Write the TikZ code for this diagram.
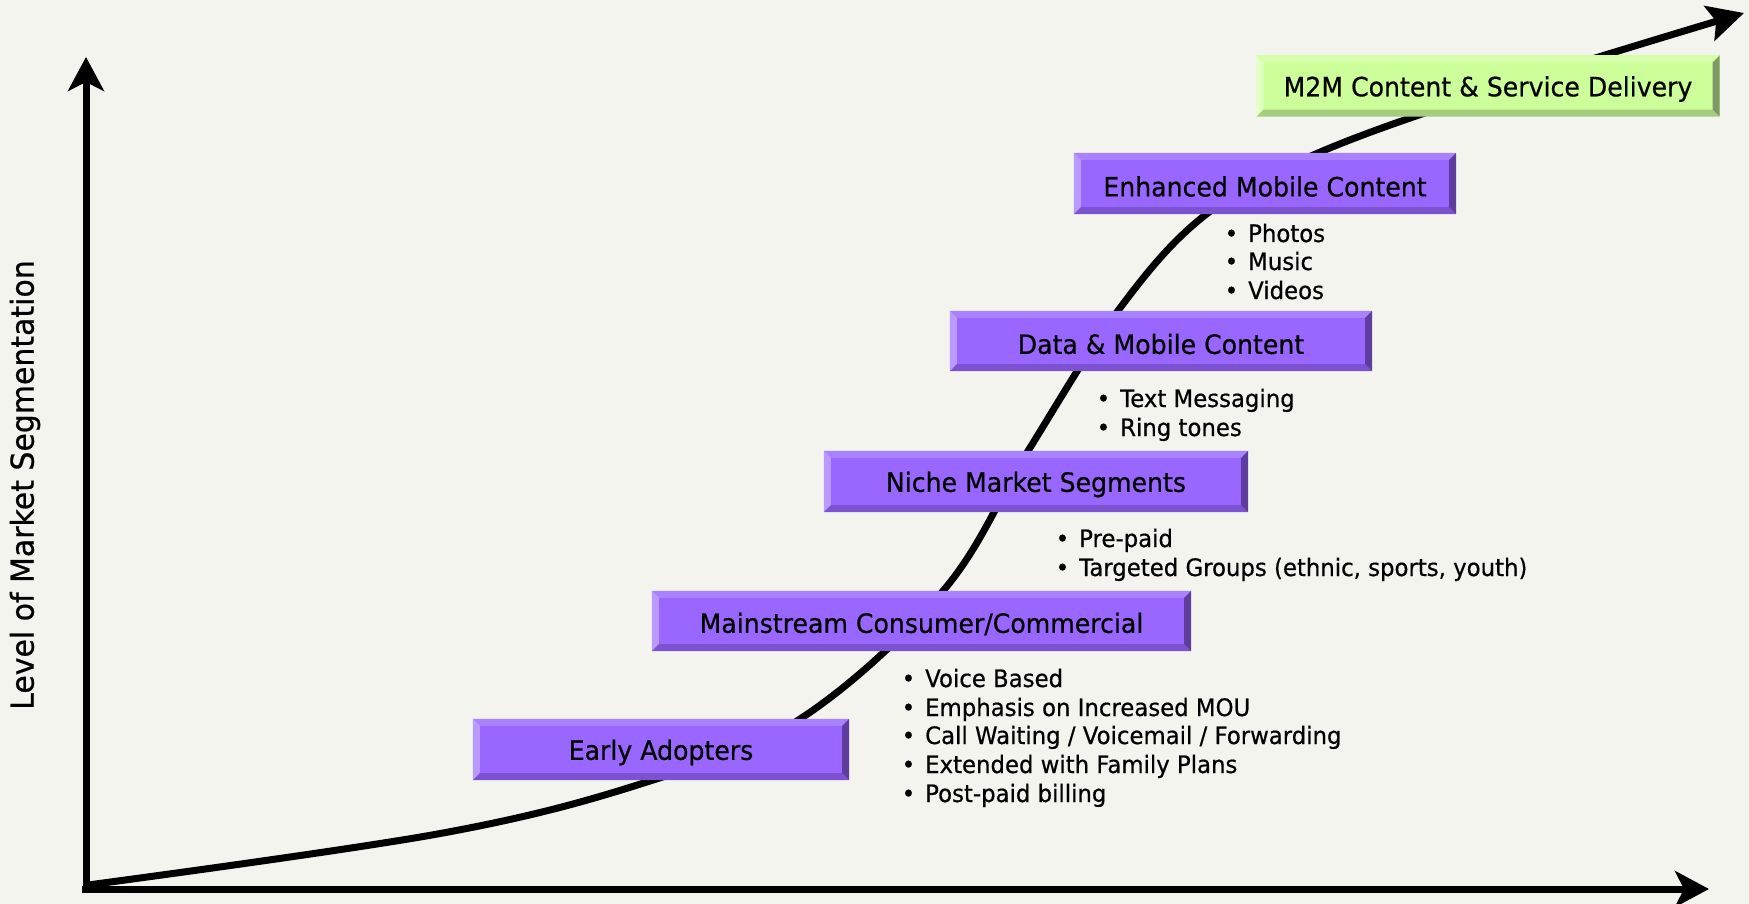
\documentclass[tikz,border=0pt]{standalone}
\usepackage{fontspec}
\setmainfont{DejaVu Sans}[FakeStretch=0.95,FakeBold=0.6]
\usetikzlibrary{arrows.meta}
\definecolor{bg}{HTML}{F4F4EF}
\definecolor{pmain}{HTML}{9966FF}
\definecolor{ptop}{HTML}{A982FF}
\definecolor{pleft}{HTML}{BB9AFF}
\definecolor{pbot}{HTML}{7D52D1}
\definecolor{pright}{HTML}{5E3D9E}
\definecolor{gmain}{HTML}{CCFF99}
\definecolor{gtop}{HTML}{D6FFAD}
\definecolor{gleft}{HTML}{E2FFC6}
\definecolor{gbot}{HTML}{A6CC7D}
\definecolor{gright}{HTML}{7F9966}
\newcommand{\bevelbox}[5]{%
  \fill[#2] (#1.north west) -- (#1.north east) -- ([xshift=-7pt,yshift=-7pt]#1.north east) -- ([xshift=7pt,yshift=-7pt]#1.north west) -- cycle;
  \fill[#3] (#1.north west) -- ([xshift=7pt,yshift=-7pt]#1.north west) -- ([xshift=7pt,yshift=7pt]#1.south west) -- (#1.south west) -- cycle;
  \fill[#5] (#1.south west) -- ([xshift=7pt,yshift=7pt]#1.south west) -- ([xshift=-7pt,yshift=7pt]#1.south east) -- (#1.south east) -- cycle;
  \fill[#4] (#1.north east) -- (#1.south east) -- ([xshift=-7pt,yshift=7pt]#1.south east) -- ([xshift=-7pt,yshift=-7pt]#1.north east) -- cycle;
}
\tikzset{
  box/.style={inner sep=0pt, draw=none, text=black, font=\fontsize{26.5}{31}\selectfont},
  boxtext/.style={box, yshift=-3pt},
  bul/.style={anchor=base west, inner sep=0pt, text=black, font=\fontsize{24}{28}\selectfont},
  axisline/.style={line width=7pt, line join=miter, -{Stealth[length=34pt,width=36pt,inset=9pt]}},
}
\newcommand{\bl}{\llap{\textbullet\hspace{10pt}}}
\begin{document}
\begin{tikzpicture}[x=1pt,y=-1pt]
\useasboundingbox (0,0) rectangle (1749,904);
\fill[bg] (0,0) rectangle (1749,904);
% axes
\coordinate (origin) at (86,889);
\coordinate (ytip) at (86,57);
\coordinate (xtip) at (1709,889);
\draw[axisline] (origin) -- (ytip);
\draw[axisline] (origin) -- (xtip);
\draw[line width=7pt] (82,889) -- (90,889);
% S-curve
\draw[line width=7pt, -{Stealth[length=36pt,width=36pt,inset=7pt]}]
  plot[smooth, tension=0.6] coordinates {(88,885) (443,833) (650,781) (800,719) (943,591) (1028,451) (1117,312) (1204,216) (1318,153) (1500,88) (1744,13)};
% boxes
\node[box, fill=pmain, minimum width=376pt, minimum height=61pt] (ea) at (661,749.5) {};
\bevelbox{ea}{ptop}{pleft}{pright}{pbot}
\node[box, fill=pmain, minimum width=539pt, minimum height=60pt] (ms) at (921.5,621) {};
\bevelbox{ms}{ptop}{pleft}{pright}{pbot}
\node[box, fill=pmain, minimum width=424pt, minimum height=61pt] (ni) at (1036,481.5) {};
\bevelbox{ni}{ptop}{pleft}{pright}{pbot}
\node[box, fill=pmain, minimum width=422pt, minimum height=60pt] (dm) at (1161,341) {};
\bevelbox{dm}{ptop}{pleft}{pright}{pbot}
\node[box, fill=pmain, minimum width=382pt, minimum height=61pt] (en) at (1265,183.5) {};
\bevelbox{en}{ptop}{pleft}{pright}{pbot}
\node[box, fill=gmain, minimum width=463pt, minimum height=61pt] (mm) at (1488,86) {};
\bevelbox{mm}{gtop}{gleft}{gright}{gbot}
% box texts
\node[boxtext] (eat) at (ea) {Early Adopters};
\node[boxtext] (mst) at (ms) {Mainstream Consumer/Commercial};
\node[boxtext] (nit) at (ni) {Niche Market Segments};
\node[boxtext] (dmt) at (dm) {Data \& Mobile Content};
\node[boxtext] (ent) at (en) {Enhanced Mobile Content};
\node[boxtext] (mmt) at (mm) {M2M Content \& Service Delivery};
% bullet lists
\node[bul] (en1) at (1248,242) {\bl Photos};
\node[bul] (en2) at (1248,270) {\bl Music};
\node[bul] (en3) at (1248,299) {\bl Videos};
\node[bul] (dm1) at (1120,407) {\bl Text Messaging};
\node[bul] (dm2) at (1120,436) {\bl Ring tones};
\node[bul] (ni1) at (1079,547) {\bl Pre-paid};
\node[bul] (ni2) at (1079,576) {\bl Targeted Groups (ethnic, sports, youth)};
\node[bul] (ms1) at (925,687) {\bl Voice Based};
\node[bul] (ms2) at (925,716) {\bl Emphasis on Increased MOU};
\node[bul] (ms3) at (925,744) {\bl Call Waiting / Voicemail / Forwarding};
\node[bul] (ms4) at (925,773) {\bl Extended with Family Plans};
\node[bul] (ms5) at (925,802) {\bl Post-paid billing};
% axis label
\node[rotate=90, inner sep=0pt, font=\fontsize{31.5}{36}\selectfont] (ylab) at (25,485) {Level of Market Segmentation};
\end{tikzpicture}
\end{document}
